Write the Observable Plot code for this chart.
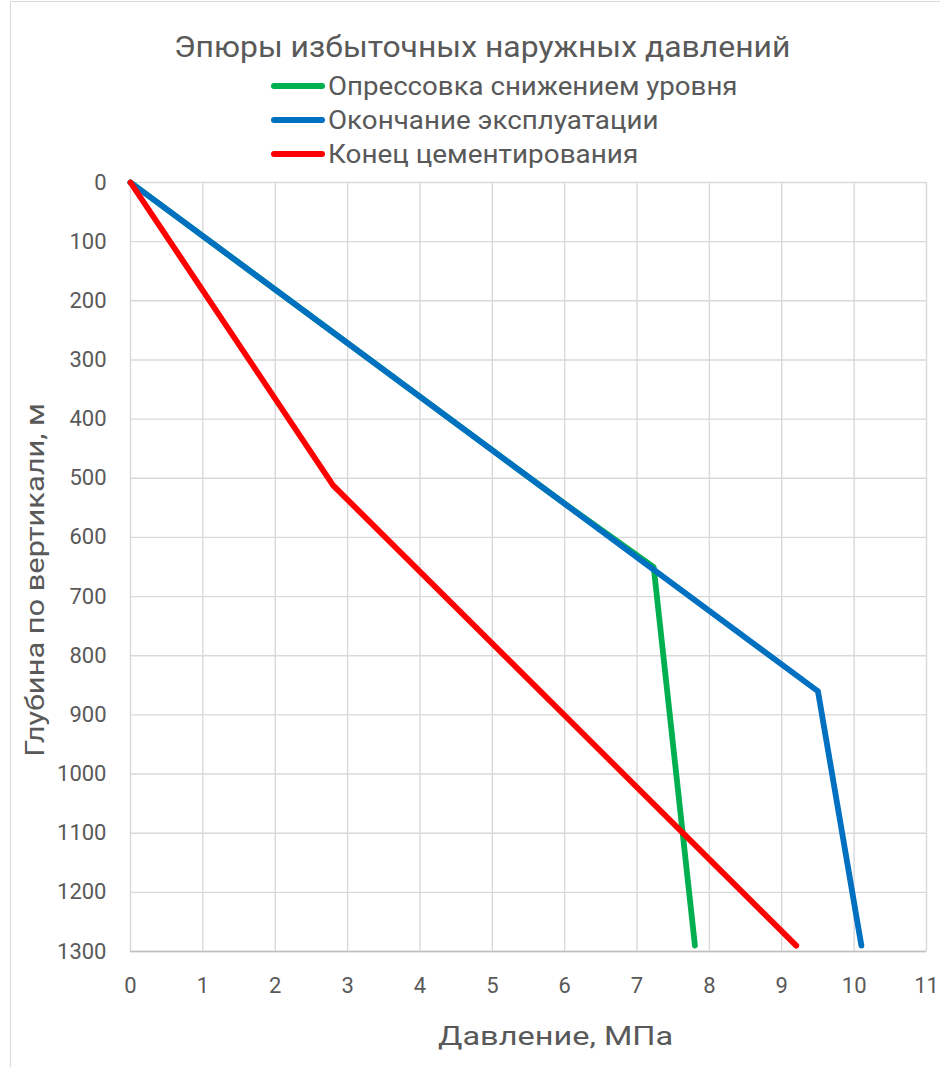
<!DOCTYPE html>
<html>
<head>
<meta charset="utf-8">
<script src="https://cdn.jsdelivr.net/npm/d3@7"></script>
<script src="https://cdn.jsdelivr.net/npm/@observablehq/plot@0.6"></script>
<style>
  body { margin: 0; background: #fff; }
  #wrap { position: relative; width: 940px; height: 1067px; overflow: hidden; background: #fff; font-family: Roboto, "Open Sans", sans-serif; color: #595959; }
  .border { position: absolute; left: 10px; top: 1px; width: 1000px; height: 1200px; border: 1.5px solid #d9d9d9; }
  .t { position: absolute; white-space: nowrap; line-height: 1; }
  .sw { position: absolute; height: 6px; border-radius: 3px; }
  #chart { position: absolute; left: 0; top: 170px; }
</style>
</head>
<body>
<div id="wrap">
  <div class="border"></div>
  <div id="chart"></div>
</div>
<script>
// ---- data ----
const seriesNames = ["Опрессовка снижением уровня", "Окончание эксплуатации", "Конец цементирования"];
const seriesColors = ["#00B050", "#0070C0", "#FF0000"];

const greenPressure = [0, 6.0, 7.23, 7.8];
const greenDepth = [0, 543, 650, 1290];
const bluePressure = [0, 9.5, 10.1];
const blueDepth = [0, 860, 1290];
const redPressure = [0, 2.8, 9.2];
const redDepth = [0, 512, 1290];

const xTicks = [0, 1, 2, 3, 4, 5, 6, 7, 8, 9, 10, 11];
const yTicks = [0, 100, 200, 300, 400, 500, 600, 700, 800, 900, 1000, 1100, 1200, 1300];

const chartTitle = "Эпюры избыточных наружных давлений";
const xTitle = "Давление, МПа";
const yTitle = "Глубина по вертикали, м";

// ---- table ----
const rows = [];
[[greenPressure, greenDepth], [bluePressure, blueDepth], [redPressure, redDepth]].forEach(([p, d], i) => {
  p.forEach((v, j) => rows.push({series: seriesNames[i], pressure: v, depth: d[j], order: j}));
});

const plot = Plot.plot({
  width: 940,
  height: 897,
  marginTop: 12,
  marginBottom: 116,
  marginLeft: 130,
  marginRight: 14,
  style: {fontFamily: "Roboto, 'Open Sans', sans-serif", fontSize: "22px", color: "#595959", background: "transparent"},
  x: {domain: [0, 11], ticks: xTicks},
  y: {domain: [0, 1300], ticks: yTicks, reverse: true},
  color: {domain: seriesNames, range: seriesColors},
  marks: [
    Plot.gridX(xTicks, {stroke: "#d9d9d9", strokeOpacity: 1, strokeWidth: 1.4}),
    Plot.gridY(yTicks, {stroke: "#d9d9d9", strokeOpacity: 1, strokeWidth: 1.4}),
    Plot.ruleY([1300], {stroke: "#bfbfbf", strokeWidth: 1.6}),
    Plot.axisX(xTicks, {tickSize: 0, tickPadding: 26, label: null, fill: "#595959", fontSize: 22, tickFormat: d => String(d)}),
    Plot.axisY(yTicks, {tickSize: 0, tickPadding: 24, label: null, fill: "#595959", fontSize: 22, tickFormat: d => String(d)}),
    Plot.line(rows, {x: "pressure", y: "depth", z: "series", stroke: "series", strokeWidth: 5.8, strokeLinecap: "round", strokeLinejoin: "round"})
  ]
});
document.getElementById("chart").appendChild(plot);

// ---- titles & legend (HTML) ----
const wrap = document.getElementById("wrap");
function addText(txt, size, left, cy, width, opts = {}) {
  const el = document.createElement("div");
  el.className = "t";
  el.textContent = txt;
  el.style.fontSize = size + "px";
  wrap.appendChild(el);
  el._fit = {left, cy, width, rotate: !!opts.rotate};
  return el;
}
const texts = [];
texts.push(addText(chartTitle, 30, 174, 47, 616));
const legendY = [86, 120, 154];
seriesNames.forEach((n, i) => {
  const sw = document.createElement("div");
  sw.className = "sw";
  sw.style.left = "271px";
  sw.style.width = "54px";
  sw.style.top = (legendY[i] - 3) + "px";
  sw.style.background = seriesColors[i];
  wrap.appendChild(sw);
});
const legendW = [409, 331, 310];
seriesNames.forEach((n, i) => texts.push(addText(n, 25, 328, legendY[i], legendW[i])));
texts.push(addText(xTitle, 26, 438, 1036, 235));
texts.push(addText(yTitle, 26, 35, 580, 354, {rotate: true}));

function fit() {
  texts.forEach(el => {
    el.style.transform = "none";
    const w = el.offsetWidth, h = el.offsetHeight;
    const f = el._fit;
    const k = f.width / w;
    if (!f.rotate) {
      el.style.left = f.left + "px";
      el.style.top = (f.cy - h / 2) + "px";
      el.style.transformOrigin = "0 50%";
      el.style.transform = `scaleX(${k})`;
    } else {
      el.style.left = (f.left - w / 2) + "px";
      el.style.top = (f.cy - h / 2) + "px";
      el.style.transformOrigin = "50% 50%";
      el.style.transform = `rotate(-90deg) scaleX(${k})`;
    }
  });
}
fit();
if (document.fonts && document.fonts.ready) document.fonts.ready.then(fit);
</script>
</body>
</html>
